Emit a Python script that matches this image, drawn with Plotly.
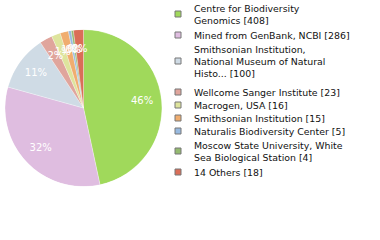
import math
import plotly.graph_objects as go

labels = [
    "Centre for Biodiversity<br>Genomics [408]",
    "Mined from GenBank, NCBI [286]",
    "Smithsonian Institution,<br>National Museum of Natural<br>Histo... [100]",
    "Wellcome Sanger Institute [23]",
    "Macrogen, USA [16]",
    "Smithsonian Institution [15]",
    "Naturalis Biodiversity Center [5]",
    "Moscow State University, White<br>Sea Biological Station [4]",
    "14 Others [18]",
]
values = [408, 286, 100, 23, 16, 15, 5, 4, 18]
colors = ["#a0d95b", "#dfbde0", "#cfdbe5", "#e0a59c", "#dee49d",
          "#f0ad6f", "#98bae0", "#94ba70", "#da6e58"]

total = sum(values)
pct_text = [f"{math.floor(v * 100 / total)}%" for v in values]
widths = [v * 360 / total for v in values]
mids = []
acc = 0.0
for w in widths:
    mids.append(acc + w / 2)
    acc += w

W, H = 380, 240
cx, cy, R = 83.5, 108, 78.5

fig = go.Figure()
fig.add_trace(go.Barpolar(
    theta=mids, width=widths, r=[1] * len(values), base=0,
    marker=dict(color=colors, line=dict(color="white", width=0.3)),
    hovertext=[l.replace("<br>", " ") for l in labels],
    showlegend=False,
))
fig.add_trace(go.Scatterpolar(
    theta=mids, r=[0.75] * len(values), mode="text", text=pct_text,
    textfont=dict(family="DejaVu Sans", size=10, color="white"),
    textposition="middle center", showlegend=False, hoverinfo="skip",
))

# legend (layout positions)
centers = [14, 35, 61, 92, 105, 118, 131, 151, 172]
shapes = []
annotations = []
for lab, col, yc in zip(labels, colors, centers):
    shapes.append(dict(type="rect", xref="paper", yref="paper",
                       x0=175 / W, x1=181 / W, y0=(H - yc - 3) / H, y1=(H - yc + 3) / H,
                       fillcolor=col, line=dict(color="#777777", width=1)))
    annotations.append(dict(xref="paper", yref="paper", x=192 / W, y=(H - yc) / H,
                            xanchor="left", yanchor="middle", align="left",
                            text=lab, showarrow=False,
                            font=dict(family="DejaVu Sans", size=9.4, color="#111111")))

fig.update_layout(
    width=W, height=H,
    margin=dict(l=0, r=0, t=0, b=0),
    paper_bgcolor="white", plot_bgcolor="white",
    polar=dict(
        domain=dict(x=[(cx - R) / W, (cx + R) / W], y=[(H - cy - R) / H, (H - cy + R) / H]),
        bgcolor="white", bargap=0, hole=0,
        angularaxis=dict(direction="clockwise", rotation=90, visible=False,
                         showgrid=False, showline=False, showticklabels=False, ticks=""),
        radialaxis=dict(range=[0, 1], visible=False, showgrid=False, showline=False,
                        showticklabels=False, ticks=""),
    ),
    shapes=shapes, annotations=annotations,
)
fig.write_html("out.html")
